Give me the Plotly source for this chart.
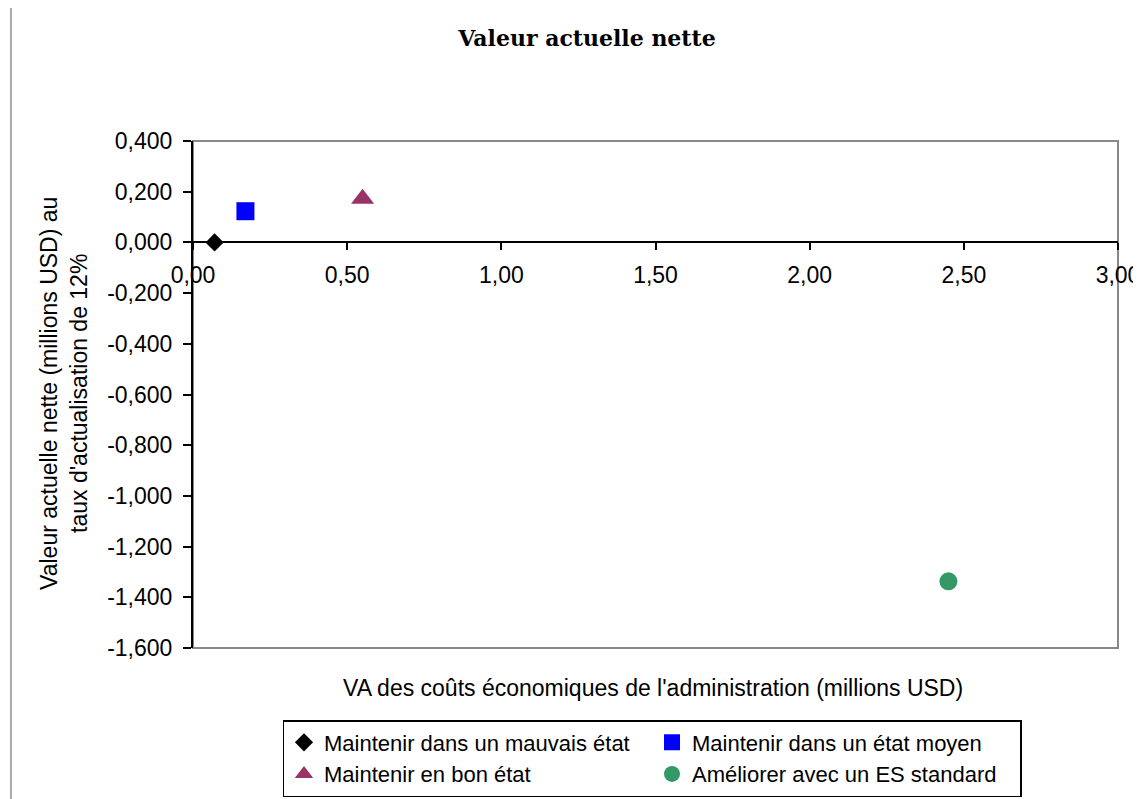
import plotly.graph_objects as go

# ── Données ───────────────────────────────────────────────────────────────────
series_names = [
    "Maintenir dans un mauvais état",
    "Maintenir dans un état moyen",
    "Maintenir en bon état",
    "Améliorer avec un ES standard",
]
cout_va = [0.07, 0.17, 0.55, 2.45]          # millions USD
van_12 = [0.000, 0.123, 0.172, -1.337]      # millions USD

x_tickvals = [0.0, 0.5, 1.0, 1.5, 2.0, 2.5, 3.0]
x_ticktext = ["0,00", "0,50", "1,00", "1,50", "2,00", "2,50", "3,00"]
y_tickvals = [0.4, 0.2, 0.0, -0.2, -0.4, -0.6, -0.8, -1.0, -1.2, -1.4, -1.6]
y_ticktext = ["0,400", "0,200", "0,000", "-0,200", "-0,400", "-0,600",
              "-0,800", "-1,000", "-1,200", "-1,400", "-1,600"]

# ── Style ─────────────────────────────────────────────────────────────────────
_SYMBOLS = ["diamond", "square", "triangle-up", "circle"]
_COLORS = ["#000000", "#0000ff", "#993366", "#339966"]
_SIZES = [14, 18, 20, 18]
_FONT = "Liberation Sans, Arial, sans-serif"
_FS = 23

# la page HTML ajoute une marge de 8 px autour de la figure
W, H = 1141 - 8, 799 - 8

fig = go.Figure()
for name, x, y, sym, col, sz in zip(series_names, cout_va, van_12, _SYMBOLS, _COLORS, _SIZES):
    fig.add_trace(go.Scatter(
        x=[x], y=[y],
        mode="markers",
        name=name,
        marker=dict(symbol=sym, color=col, size=sz, line=dict(width=0)),
        hovertemplate="%{x:.2f} ; %{y:.3f}<extra>" + name + "</extra>",
    ))

# position de l'axe X sur la ligne y = 0
y_min, y_max = -1.6, 0.4
x_axis_pos = (0 - y_min) / (y_max - y_min)

fig.update_layout(
    width=W,
    height=H,
    margin=dict(l=185, r=23, t=133, b=151),
    paper_bgcolor="white",
    plot_bgcolor="white",
    font=dict(family=_FONT, size=_FS, color="black"),
    title=dict(
        text="<b>Valeur actuelle nette</b>",
        font=dict(family="DejaVu Serif, serif", size=22, color="black"),
        x=579 / W, xanchor="center",
        y=1 - 30 / H, yanchor="middle", yref="container",
    ),
    xaxis=dict(
        range=[0, 3],
        anchor="free",
        position=x_axis_pos,
        automargin=False,
        showgrid=False,
        zeroline=False,
        showline=True,
        linecolor="black",
        linewidth=2,
        ticks="outside",
        ticklen=7,
        tickwidth=2,
        tickcolor="black",
        tickvals=x_tickvals,
        ticktext=x_ticktext,
        ticklabelstandoff=5,
    ),
    yaxis=dict(
        range=[y_min, y_max],
        automargin=False,
        showgrid=False,
        zeroline=False,
        showline=True,
        linecolor="black",
        linewidth=2,
        ticks="outside",
        ticklen=8,
        tickwidth=2,
        tickcolor="black",
        tickvals=y_tickvals,
        ticktext=y_ticktext,
        ticklabelstandoff=6,
    ),
    legend=dict(
        orientation="h",
        xref="container", yref="container",
        x=644 / W, xanchor="center",
        y=1 - 712 / H, yanchor="top",
        entrywidth=323,
        bordercolor="black",
        borderwidth=1.5,
        bgcolor="white",
        font=dict(size=22),
        itemsizing="trace",
        tracegroupgap=0,
    ),
    showlegend=True,
)

# cadre gris de la zone de traçage
fig.add_shape(type="rect", xref="paper", yref="paper", x0=0, x1=1, y0=0, y1=1,
              line=dict(color="#888888", width=2), layer="below")
# bord gauche de la zone du graphique
fig.add_shape(type="line", xref="paper", yref="paper",
              x0=-0.1968, x1=-0.1968, y0=-0.3, y1=1.29,
              line=dict(color="#aaaaaa", width=2))

# titres des axes
fig.add_annotation(
    text="VA des coûts économiques de l'administration (millions USD)",
    xref="paper", yref="paper", x=0.497, y=-0.079,
    xanchor="center", yanchor="middle", showarrow=False,
)
fig.add_annotation(
    text="Valeur actuelle nette (millions USD) au<br>taux d'actualisation de 12%",
    xref="paper", yref="paper", x=-0.1395, y=0.503,
    xanchor="center", yanchor="middle", showarrow=False, textangle=-90,
)

fig.write_html("out.html")
